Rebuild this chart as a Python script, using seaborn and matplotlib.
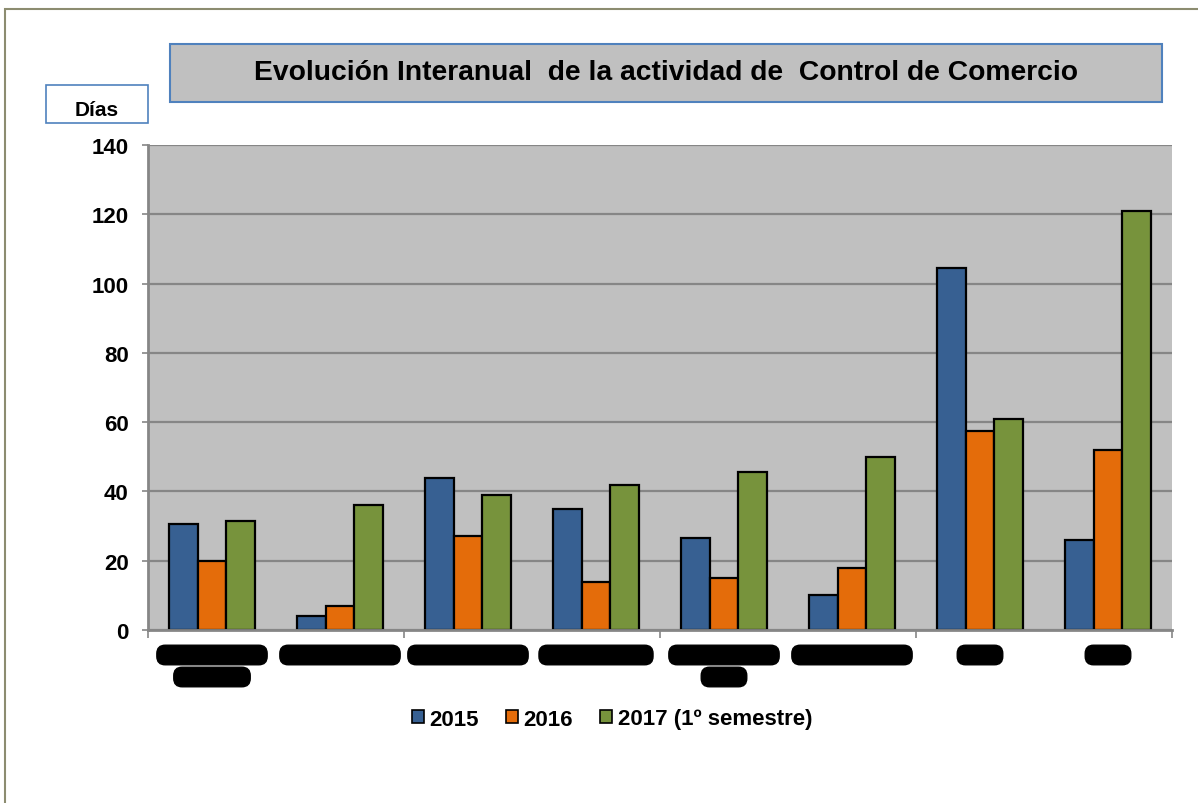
import numpy as np
import pandas as pd
import matplotlib
matplotlib.use('Agg')
import matplotlib.pyplot as plt
import seaborn as sns
from matplotlib.patches import Rectangle, Patch
from matplotlib.transforms import blended_transform_factory

# data (category names are blacked out in the original)
categorias = ['LOCALIDAD AB', 'LOCALIDAD ABC', 'LOCALIDAD ABC', 'LOCALIDAD ABI',
              'LOCALIDAD AB', 'LOCALIDAD ABC', 'ABCD', 'ABCD']
categorias_l2 = ['SECTOR A', '', '', '', 'ABCD', '', '', '']
series = ['2015', '2016', '2017 (1º semestre)']
v2015 = [30.5, 4, 44, 35, 26.5, 10, 104.5, 26]
v2016 = [20, 7, 27, 14, 15, 18, 57.5, 52]
v2017 = [31.5, 36, 39, 42, 45.5, 50, 61, 121]
colores = ['#376092', '#e46c0a', '#77933c']
yticks = [0, 20, 40, 60, 80, 100, 120, 140]

df = pd.DataFrame({
    'cat': [f'c{i}' for i in range(len(categorias))] * 3,
    'serie': np.repeat(series, len(categorias)),
    'dias': v2015 + v2016 + v2017,
})

sns.set_style('white')
plt.rcParams['font.family'] = ['Liberation Sans', 'DejaVu Sans']
plt.rcParams['text.color'] = 'black'
plt.rcParams['ytick.labelcolor'] = 'black'

W, H = 1198, 804
fig = plt.figure(figsize=(W / 100, H / 100), dpi=100)
ax = fig.add_axes([148 / W, 1 - 631 / H, (1172 - 148) / W, (631 - 146) / H])

sns.barplot(data=df, x='cat', y='dias', hue='serie', palette=colores,
            width=0.667, edgecolor='black', linewidth=1.6, ax=ax, legend=False,
            saturation=1)

ax.set_facecolor('#c0c0c0')
ax.set_ylim(0, 140)
ax.set_xlim(-0.5, len(categorias) - 0.5)
ax.set_yticks(yticks)
ax.set_yticklabels([str(t) for t in yticks], fontsize=16, fontweight='bold', color='black')
ax.yaxis.grid(True, color='#868686', linewidth=1.6)
ax.set_axisbelow(True)
ax.set_xlabel('')
ax.set_ylabel('')
for s in ['top', 'right']:
    ax.spines[s].set_visible(False)
for s in ['left', 'bottom']:
    ax.spines[s].set_color('#868686')
    ax.spines[s].set_linewidth(2)
ax.tick_params(axis='y', length=4, width=1.2, color='#868686', pad=10, left=True)
ax.set_xticks(range(len(categorias)))
ax.set_xticklabels([])
ax.tick_params(axis='x', length=0)
ax.set_xticks([-0.5, 1.5, 3.5, 5.5, 7.5], minor=True)
ax.tick_params(axis='x', which='minor', length=6, width=1.2, color='#868686', bottom=True)

# redacted category labels: black text on black pill boxes
trans = blended_transform_factory(ax.transData, ax.transAxes)
caja = dict(boxstyle='round,pad=0.2,rounding_size=0.6', fc='black', ec='black')
for i, (l1, l2) in enumerate(zip(categorias, categorias_l2)):
    ax.annotate(l1, xy=(i, 0), xycoords=trans, xytext=(0, -25), textcoords='offset pixels',
                ha='center', va='center', fontsize=10, fontweight='bold', color='black', bbox=caja)
    if l2:
        ax.annotate(l2, xy=(i, 0), xycoords=trans, xytext=(0, -47), textcoords='offset pixels',
                    ha='center', va='center', fontsize=10, fontweight='bold', color='black', bbox=caja)

# outer frame
fig.patches.append(Rectangle((5 / W, -0.1), 1.2, 1.1 - 10 / H, transform=fig.transFigure,
                             fill=False, ec='#8c8c70', lw=1.5))

# title box
fig.patches.append(Rectangle((170 / W, 1 - 103 / H), (1162 - 170) / W, 58 / H,
                             transform=fig.transFigure, fc='#c0c0c0', ec='#4f81bd', lw=1.5))
fig.text(666 / W, 1 - 73 / H, 'Evolución Interanual  de la actividad de  Control de Comercio',
         ha='center', va='center', fontsize=20.3, fontweight='bold', color='black')

# y unit box
fig.patches.append(Rectangle((46 / W, 1 - 124 / H), 102 / W, 38 / H,
                             transform=fig.transFigure, fc='white', ec='#4f81bd', lw=1.2))
fig.text(97 / W, 1 - 110 / H, 'Días', ha='center', va='center', fontsize=15,
         fontweight='bold', color='black')

handles = [Patch(fc=c, ec='black', lw=1.2) for c in colores]
fig.legend(handles, series, loc='center', bbox_to_anchor=(612 / W, 1 - 720 / H), ncol=3,
           frameon=False, handlelength=0.55, handleheight=0.55, handletextpad=0.25,
           columnspacing=1.2, prop={'weight': 'bold', 'size': 16})

fig.savefig('out.png', dpi=100)
